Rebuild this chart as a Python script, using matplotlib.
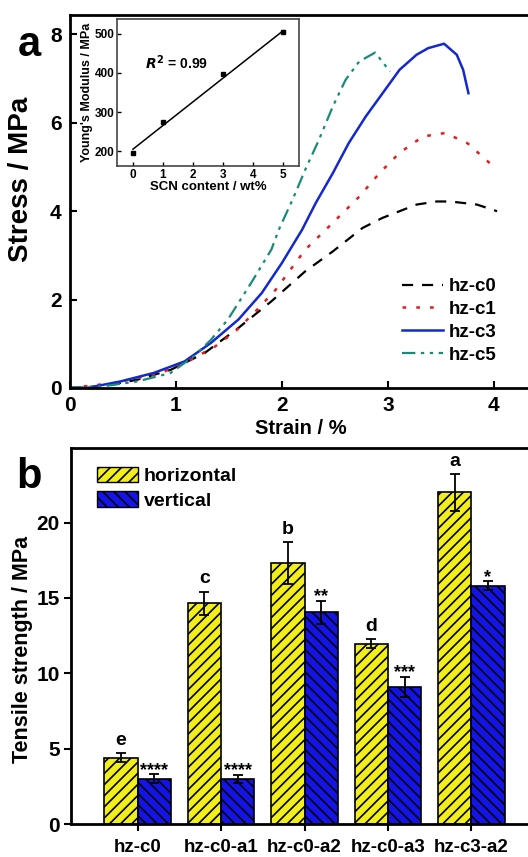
import matplotlib
matplotlib.use("Agg")
import matplotlib.pyplot as plt
import numpy as np
from matplotlib.patches import Patch

plt.rcParams['font.family'] = ['Liberation Sans', 'DejaVu Sans']
plt.rcParams['font.weight'] = 'bold'
plt.rcParams['hatch.linewidth'] = 1.2

# ---- panel a: stress-strain curves ----
c0_x = [0, 0.32, 0.64, 0.95, 1.27, 1.59, 1.90, 2.22, 2.48, 2.76, 2.95, 3.11, 3.27, 3.46, 3.59, 3.84, 4.03]
c0_y = [0, 0.04, 0.19, 0.41, 0.79, 1.36, 1.96, 2.64, 3.09, 3.62, 3.85, 4.0, 4.15, 4.22, 4.22, 4.15, 4.0]

c1_x = [0, 0.41, 0.86, 1.14, 1.37, 1.56, 1.75, 1.94, 2.22, 2.46, 2.73, 2.92, 3.11, 3.33, 3.54, 3.75, 4.03]
c1_y = [0, 0.11, 0.34, 0.64, 0.94, 1.28, 1.73, 2.22, 3.13, 3.69, 4.33, 4.86, 5.32, 5.69, 5.77, 5.54, 4.94]

c3_x = [0, 0.16, 0.48, 0.79, 1.08, 1.33, 1.59, 1.81, 2.0, 2.19, 2.32, 2.48, 2.63, 2.79, 2.95, 3.11,
        3.27, 3.38, 3.53, 3.65, 3.71, 3.76]
c3_y = [0, 0.0, 0.15, 0.34, 0.6, 1.02, 1.55, 2.15, 2.83, 3.58, 4.19, 4.86, 5.54, 6.14, 6.67, 7.2,
        7.54, 7.69, 7.79, 7.54, 7.2, 6.67]

c5_x = [0, 0.32, 0.64, 0.95, 1.17, 1.33, 1.49, 1.71, 1.90, 1.97, 2.10, 2.22, 2.35, 2.48, 2.60, 2.73, 2.88, 3.02]
c5_y = [0, 0.04, 0.15, 0.34, 0.72, 1.09, 1.55, 2.38, 3.13, 3.58, 4.26, 4.94, 5.62, 6.37, 6.97, 7.39, 7.59, 7.16]

# inset: Young's modulus
scn = [0, 1, 3, 5]
modulus = [195, 275, 398, 505]
fit_x = [0, 5]
fit_y = [205, 508]

# ---- panel b: tensile strength ----
samples = ['hz-c0', 'hz-c0-a1', 'hz-c0-a2', 'hz-c0-a3', 'hz-c3-a2']
horiz = [4.4, 14.65, 17.3, 11.95, 22.0]
horiz_err = [0.3, 0.75, 1.4, 0.3, 1.2]
vert = [3.0, 3.0, 14.05, 9.1, 15.8]
vert_err = [0.3, 0.25, 0.75, 0.65, 0.3]
horiz_lab = ['e', 'c', 'b', 'd', 'a']
vert_lab = ['****', '****', '**', '***', '*']

fig = plt.figure(figsize=(5.28, 8.57), dpi=100)

# Panel a
ax1 = fig.add_axes([0.1326, 0.5473, 0.875, 0.4352])
ax1.plot(c0_x, c0_y, color='black', ls=(0, (5, 4)), lw=1.6, label='hz-c0')
ax1.plot(c1_x, c1_y, color='#e02020', ls=(0, (1.5, 4)), lw=1.8, label='hz-c1')
ax1.plot(c3_x, c3_y, color='#1428d0', ls='-', lw=1.8, label='hz-c3')
ax1.plot(c5_x, c5_y, color='#1a8a78', ls=(0, (6, 2.5, 1.5, 2.5, 1.5, 2.5)), lw=1.6, label='hz-c5')
ax1.set_xlim(0, 4.36)
ax1.set_ylim(0, 8.44)
ax1.set_xticks([0, 1, 2, 3, 4])
ax1.set_yticks([0, 2, 4, 6, 8])
ax1.tick_params(direction='in', width=1.5, length=5, labelsize=15, pad=6)
ax1.set_xlabel('Strain / %', fontsize=14.5, fontweight='bold', labelpad=3)
ax1.set_ylabel('Stress / MPa', fontsize=20, fontweight='bold')
ax1.yaxis.set_label_coords(-0.078, 0.558)
for s in ax1.spines.values():
    s.set_linewidth(2)
ax1.legend(loc='upper left', bbox_to_anchor=(0.719, 0.295), frameon=False,
           borderpad=0, borderaxespad=0,
           fontsize=13.5, handlelength=2.2, handletextpad=0.27, labelspacing=0.31)
fig.text(0.055, 0.947, 'a', fontsize=30, fontweight='bold', ha='center', va='center')

# Inset
axi = fig.add_axes([0.2216, 0.8063, 0.3447, 0.1715])
axi.plot(scn, modulus, 's', color='black', ms=3.5)
axi.plot(fit_x, fit_y, color='black', lw=1.1)
axi.set_xlim(-0.53, 5.53)
axi.set_ylim(162, 538)
axi.set_xticks([0, 1, 2, 3, 4, 5])
axi.set_yticks([200, 300, 400, 500])
axi.tick_params(direction='in', width=1, length=3, labelsize=8.5, pad=2)
axi.set_xlabel('SCN content / wt%', fontsize=9.5, fontweight='bold', labelpad=0)
axi.set_ylabel("Young's Modulus / MPa", fontsize=9, fontweight='bold', labelpad=1)
for s in axi.spines.values():
    s.set_linewidth(1.2)
    s.set_color('#444444')
axi.text(0.4, 410, '$R^2$ = 0.99', fontsize=10, fontweight='bold')

# Panel b
ax2 = fig.add_axes([0.1345, 0.0385, 0.875, 0.4388])
x = np.arange(len(samples))
w = 0.4
ax2.bar(x - w / 2, horiz, w, color='#f2ee1a', edgecolor='black', hatch='///', lw=1.2)
ax2.bar(x + w / 2, vert, w, color='#1414e6', edgecolor='black', hatch='\\\\\\', lw=1.2)
ax2.errorbar(x - w / 2, horiz, yerr=horiz_err, fmt='none', ecolor='black', capsize=3.5, elinewidth=1.3, capthick=1.3)
ax2.errorbar(x + w / 2, vert, yerr=vert_err, fmt='none', ecolor='black', capsize=3.5, elinewidth=1.3, capthick=1.3)
for i in range(len(samples)):
    ax2.text(x[i] - w / 2, horiz[i] + horiz_err[i] + 0.3, horiz_lab[i], ha='center', va='bottom',
             fontsize=14, fontweight='bold')
    ax2.text(x[i] + w / 2, vert[i] + vert_err[i] - 0.3, vert_lab[i], ha='center', va='bottom',
             fontsize=13, fontweight='bold')
ax2.set_xlim(-0.8, 4.74)
ax2.set_ylim(0, 24.95)
ax2.set_xticks(x)
ax2.set_xticklabels(samples)
ax2.set_yticks([0, 5, 10, 15, 20])
ax2.tick_params(direction='out', width=1.5, length=5, labelsize=13.5, pad=6)
ax2.tick_params(axis='y', labelsize=15, pad=3)
ax2.set_ylabel('Tensile strength / MPa', fontsize=15.5, fontweight='bold')
ax2.yaxis.set_label_coords(-0.082, 0.463)
for s in ax2.spines.values():
    s.set_linewidth(2)
handles = [Patch(facecolor='#f2ee1a', edgecolor='black', hatch='///', label='horizontal'),
           Patch(facecolor='#1414e6', edgecolor='black', hatch='\\\\\\', label='vertical')]
ax2.legend(handles=handles, loc='upper left', bbox_to_anchor=(0.056, 0.95), frameon=False,
           borderpad=0, borderaxespad=0,
           fontsize=14, handlelength=2.1, handleheight=0.85, handletextpad=0.3, labelspacing=0.3)
fig.text(0.055, 0.443, 'b', fontsize=30, fontweight='bold', ha='center', va='center')

fig.savefig('out.png', dpi=100)
